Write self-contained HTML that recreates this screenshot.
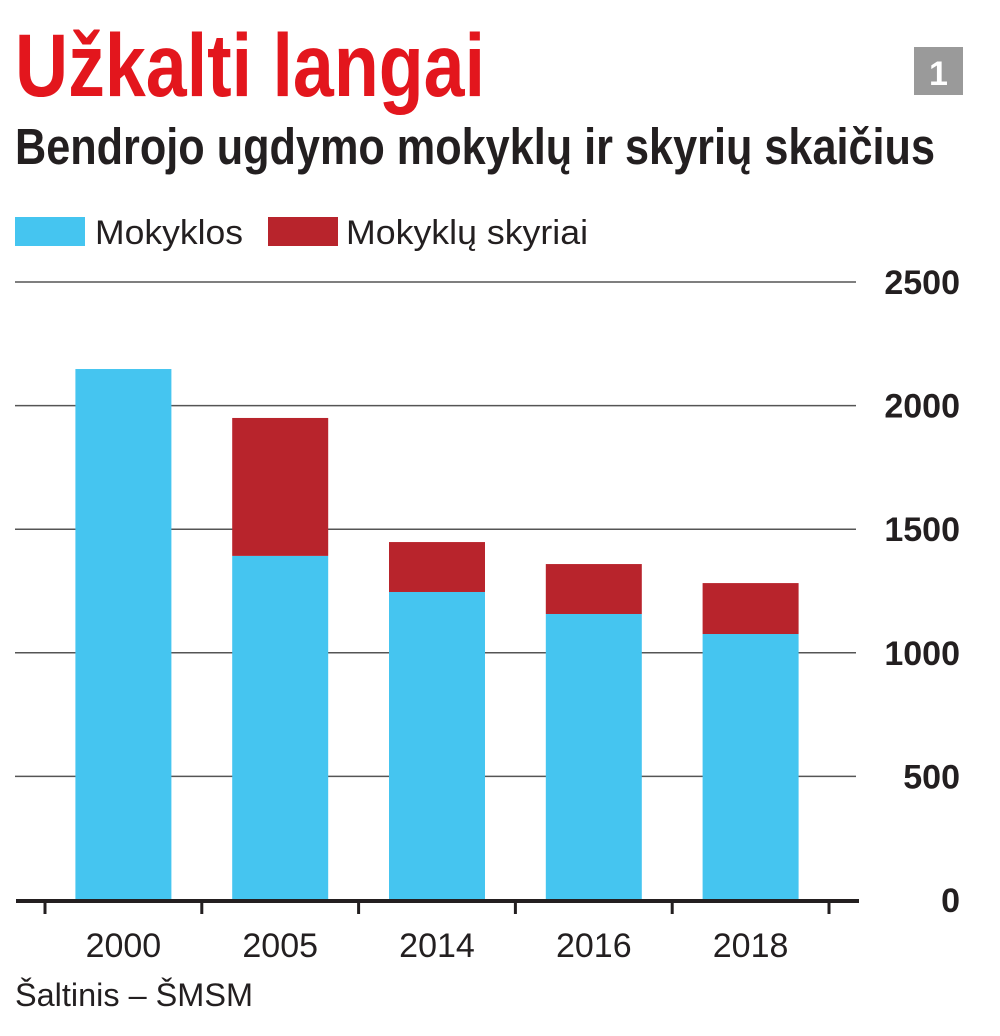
<!DOCTYPE html>
<html><head><meta charset="utf-8"><style>
html,body{margin:0;padding:0;background:#fff;}
svg{display:block;font-family:"Liberation Sans",sans-serif;}
</style></head><body>
<svg id="chart" width="1000" height="1036" viewBox="0 0 1000 1036">
<text x="15" y="96" font-size="89" font-weight="bold" fill="#e3161d" textLength="470" lengthAdjust="spacingAndGlyphs">Užkalti langai</text>
<text x="15" y="164" font-size="51" font-weight="bold" fill="#231f20" textLength="920" lengthAdjust="spacingAndGlyphs">Bendrojo ugdymo mokyklų ir skyrių skaičius</text>
<rect x="914" y="47" width="49" height="48" fill="#9a9a9a"/>
<text x="938.5" y="85" font-size="34" font-weight="bold" fill="#fff" text-anchor="middle">1</text>
<g>
<rect x="15" y="217" width="70" height="29" fill="#45c5f0"/>
<text x="95" y="244" font-size="34" fill="#231f20" textLength="148" lengthAdjust="spacingAndGlyphs">Mokyklos</text>
<rect x="268" y="217" width="70" height="29" fill="#b8242c"/>
<text x="346" y="244" font-size="34" fill="#231f20" textLength="242" lengthAdjust="spacingAndGlyphs">Mokyklų skyriai</text>
</g>
<g id="grid"></g>
<g id="bars"></g>
<g id="axis"></g>
<text x="15" y="1006" font-size="32" fill="#231f20" textLength="238" lengthAdjust="spacingAndGlyphs">Šaltinis – ŠMSM</text>
</svg>
<script>
const categories = ["2000","2005","2014","2016","2018"];
const schools = [2148,1392,1246,1157,1076];
const branches = [0,558,202,202,206];
const yTicks = [0,500,1000,1500,2000,2500];

const NS="http://www.w3.org/2000/svg";
const y0=900, yTop=282, yMax=2500;
const y=v=>y0-(v/yMax)*(y0-yTop);
const x0=45, step=156.8, barW=96;
const xc=i=>x0+step*(i+0.5);
function mk(tag,attrs,parent){const e=document.createElementNS(NS,tag);for(const k in attrs)e.setAttribute(k,attrs[k]);parent.appendChild(e);return e;}
const grid=document.getElementById('grid'),bars=document.getElementById('bars'),axis=document.getElementById('axis');
yTicks.forEach(t=>{
  if(t>0){const l=mk('line',{x1:15,x2:856,y1:y(t),y2:y(t),stroke:'#555','stroke-width':1.5},grid);
  
  }
  const tx=mk('text',{x:960,y:y(t)+12,'font-size':34,'font-weight':'bold',fill:'#231f20','text-anchor':'end'},grid);
  tx.textContent=t;
  
  
});
categories.forEach((c,i)=>{
  const b=mk('rect',{x:xc(i)-barW/2,y:y(schools[i]),width:barW,height:y0-y(schools[i]),fill:'#45c5f0'},bars);
  
  
  if(branches[i]>0){
    const r=mk('rect',{x:xc(i)-barW/2,y:y(schools[i]+branches[i]),width:barW,height:y(schools[i])-y(schools[i]+branches[i]),fill:'#b8242c'},bars);
    
    
  }
  const t=mk('text',{x:xc(i),y:957,'font-size':34,fill:'#231f20','text-anchor':'middle'},axis);
  t.textContent=c;
  
  
});
const al=mk('line',{x1:16,x2:859,y1:y0+1,y2:y0+1,stroke:'#231f20','stroke-width':4},axis);


for(let i=0;i<=categories.length;i++){
  const tk=mk('line',{x1:x0+step*i,x2:x0+step*i,y1:y0,y2:y0+14,stroke:'#231f20','stroke-width':3},axis);
  
  
}
</script>
</body></html>
